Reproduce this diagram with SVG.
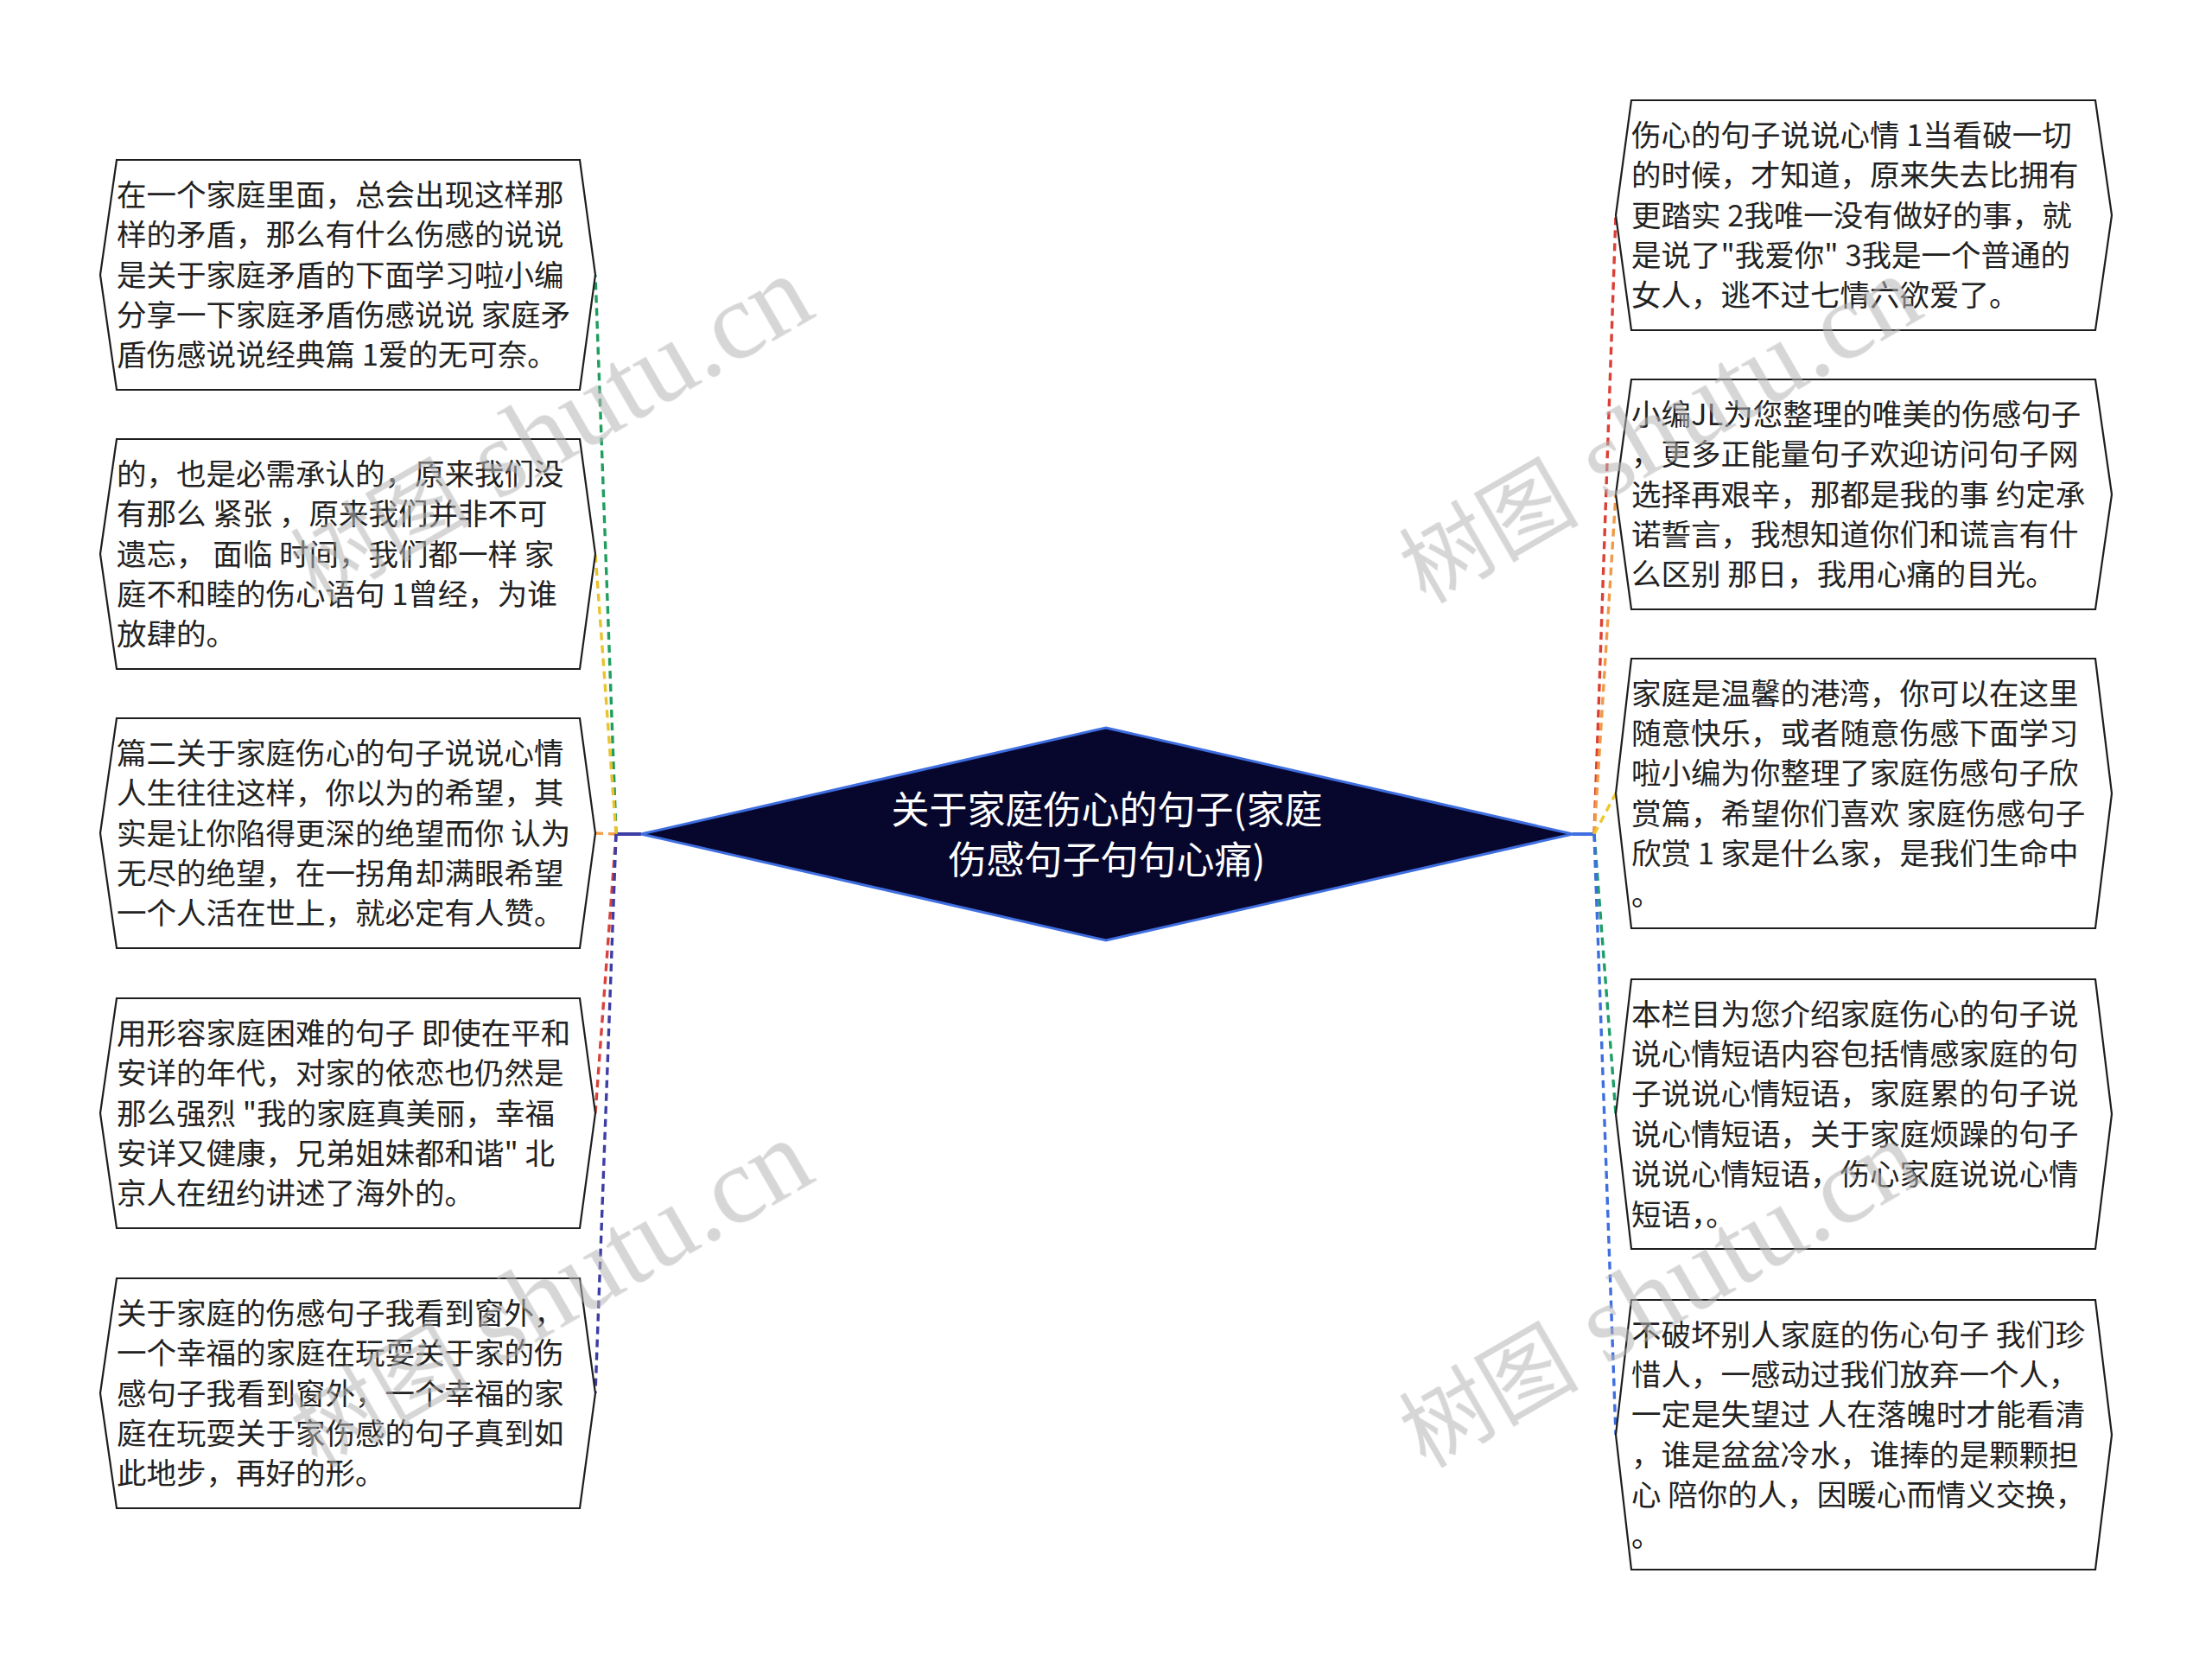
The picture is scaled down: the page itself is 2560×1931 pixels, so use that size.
<svg xmlns="http://www.w3.org/2000/svg" width="2560" height="1931" viewBox="0 0 2560 1931">
<style>
.box{fill:#ffffff;stroke:#1e1e1e;stroke-width:2.2;stroke-linejoin:miter}
.t{font-family:"Noto Sans CJK SC","Noto Sans",sans-serif;font-size:34.5px;fill:#222222}
.ct{font-family:"Noto Sans CJK SC","Noto Sans",sans-serif;font-size:44px;fill:#ffffff;text-anchor:middle}
.e{fill:none;stroke-width:3.4;stroke-dasharray:9 6}
.wm{fill:#b4b4b4;opacity:0.55}
.wmc{font-family:"Noto Sans CJK SC",sans-serif;font-size:104px}
.wml{font-family:"Liberation Serif",serif;font-size:128px}
</style>
<rect width="2560" height="1931" fill="#ffffff"/>
<g id="connectors">
<path d="M742 965 L713 965" stroke="#3d3da6" stroke-width="4" fill="none"/>
<path d="M1820 965 L1845 965" stroke="#3e6ee0" stroke-width="4" fill="none"/>
<path class="e" stroke="#1f9e5e" d="M713 965 L689 318"/>
<path class="e" stroke="#e9c32b" d="M713 965 L689 641"/>
<path class="e" stroke="#f2a04a" d="M713 965 L689 964"/>
<path class="e" stroke="#d8423c" d="M713 965 L689 1288"/>
<path class="e" stroke="#3d3da6" d="M713 965 L689 1612"/>
<path class="e" stroke="#dc3f35" d="M1845 965 L1870 249"/>
<path class="e" stroke="#f09a45" d="M1845 965 L1870 572"/>
<path class="e" stroke="#edc72c" d="M1845 965 L1870 918"/>
<path class="e" stroke="#1d9e68" d="M1845 965 L1870 1289"/>
<path class="e" stroke="#3e6ee0" d="M1845 965 L1870 1660"/>
</g>
<g id="center">
<polygon points="742,965 1280,842 1820,965 1280,1088" fill="#07072e" stroke="#3e6ee0" stroke-width="3"/>
<text class="ct" x="1281" y="953">关于家庭伤心的句子(家庭</text>
<text class="ct" x="1281" y="1011">伤感句子句句心痛)</text>
</g>
<g id="L1">
<polygon class="box" points="116,318 135,185 671,185 689,318 671,451 135,451"/>
<text class="t"><tspan x="135" y="238">在一个家庭里面，总会出现这样那</tspan><tspan x="135" y="284">样的矛盾，那么有什么伤感的说说</tspan><tspan x="135" y="331">是关于家庭矛盾的下面学习啦小编</tspan><tspan x="135" y="377">分享一下家庭矛盾伤感说说 家庭矛</tspan><tspan x="135" y="423">盾伤感说说经典篇 1爱的无可奈。</tspan></text>
</g>
<g id="L2">
<polygon class="box" points="116,641 135,508 671,508 689,641 671,774 135,774"/>
<text class="t"><tspan x="135" y="561">的，也是必需承认的，原来我们没</tspan><tspan x="135" y="607">有那么 紧张 ，原来我们并非不可</tspan><tspan x="135" y="654">遗忘，  面临 时间，我们都一样 家</tspan><tspan x="135" y="700">庭不和睦的伤心语句 1曾经，为谁</tspan><tspan x="135" y="746">放肆的。</tspan></text>
</g>
<g id="L3">
<polygon class="box" points="116,964 135,831 671,831 689,964 671,1097 135,1097"/>
<text class="t"><tspan x="135" y="884">篇二关于家庭伤心的句子说说心情</tspan><tspan x="135" y="930">人生往往这样，你以为的希望，其</tspan><tspan x="135" y="977">实是让你陷得更深的绝望而你 认为</tspan><tspan x="135" y="1023">无尽的绝望，在一拐角却满眼希望</tspan><tspan x="135" y="1069">一个人活在世上，就必定有人赞。</tspan></text>
</g>
<g id="L4">
<polygon class="box" points="116,1288 135,1155 671,1155 689,1288 671,1421 135,1421"/>
<text class="t"><tspan x="135" y="1208">用形容家庭困难的句子 即使在平和</tspan><tspan x="135" y="1254">安详的年代，对家的依恋也仍然是</tspan><tspan x="135" y="1301">那么强烈 "我的家庭真美丽，幸福</tspan><tspan x="135" y="1347">安详又健康，兄弟姐妹都和谐" 北</tspan><tspan x="135" y="1393">京人在纽约讲述了海外的。</tspan></text>
</g>
<g id="L5">
<polygon class="box" points="116,1612 135,1479 671,1479 689,1612 671,1745 135,1745"/>
<text class="t"><tspan x="135" y="1532">关于家庭的伤感句子我看到窗外，</tspan><tspan x="135" y="1578">一个幸福的家庭在玩耍关于家的伤</tspan><tspan x="135" y="1625">感句子我看到窗外，一个幸福的家</tspan><tspan x="135" y="1671">庭在玩耍关于家伤感的句子真到如</tspan><tspan x="135" y="1717">此地步，再好的形。</tspan></text>
</g>
<g id="R1">
<polygon class="box" points="1870,249 1888,116 2425,116 2444,249 2425,382 1888,382"/>
<text class="t"><tspan x="1888" y="169">伤心的句子说说心情 1当看破一切</tspan><tspan x="1888" y="215">的时候，才知道，原来失去比拥有</tspan><tspan x="1888" y="262">更踏实 2我唯一没有做好的事，就</tspan><tspan x="1888" y="308">是说了"我爱你" 3我是一个普通的</tspan><tspan x="1888" y="354">女人，逃不过七情六欲爱了。</tspan></text>
</g>
<g id="R2">
<polygon class="box" points="1870,572 1888,439 2425,439 2444,572 2425,705 1888,705"/>
<text class="t"><tspan x="1888" y="492">小编JL为您整理的唯美的伤感句子</tspan><tspan x="1888" y="538">，更多正能量句子欢迎访问句子网</tspan><tspan x="1888" y="585">选择再艰辛，那都是我的事 约定承</tspan><tspan x="1888" y="631">诺誓言，我想知道你们和谎言有什</tspan><tspan x="1888" y="677">么区别 那日，我用心痛的目光。</tspan></text>
</g>
<g id="R3">
<polygon class="box" points="1870,918 1888,762 2425,762 2444,918 2425,1074 1888,1074"/>
<text class="t"><tspan x="1888" y="815">家庭是温馨的港湾，你可以在这里</tspan><tspan x="1888" y="861">随意快乐，或者随意伤感下面学习</tspan><tspan x="1888" y="907">啦小编为你整理了家庭伤感句子欣</tspan><tspan x="1888" y="954">赏篇，希望你们喜欢 家庭伤感句子</tspan><tspan x="1888" y="1000">欣赏 1 家是什么家，是我们生命中</tspan><tspan x="1888" y="1047">。</tspan></text>
</g>
<g id="R4">
<polygon class="box" points="1870,1289 1888,1133 2425,1133 2444,1289 2425,1445 1888,1445"/>
<text class="t"><tspan x="1888" y="1186">本栏目为您介绍家庭伤心的句子说</tspan><tspan x="1888" y="1232">说心情短语内容包括情感家庭的句</tspan><tspan x="1888" y="1278">子说说心情短语，家庭累的句子说</tspan><tspan x="1888" y="1325">说心情短语，关于家庭烦躁的句子</tspan><tspan x="1888" y="1371">说说心情短语，伤心家庭说说心情</tspan><tspan x="1888" y="1418">短语，。</tspan></text>
</g>
<g id="R5">
<polygon class="box" points="1870,1660 1888,1504 2425,1504 2444,1660 2425,1816 1888,1816"/>
<text class="t"><tspan x="1888" y="1557">不破坏别人家庭的伤心句子 我们珍</tspan><tspan x="1888" y="1603">惜人，一感动过我们放弃一个人，</tspan><tspan x="1888" y="1649">一定是失望过 人在落魄时才能看清</tspan><tspan x="1888" y="1696">，谁是盆盆冷水，谁捧的是颗颗担</tspan><tspan x="1888" y="1742">心 陪你的人，因暖心而情义交换，</tspan><tspan x="1888" y="1789">。</tspan></text>
</g>
<g id="watermarks" class="wm">
<text transform="translate(367,700) rotate(-30)"><tspan class="wmc">树图</tspan><tspan class="wml"> shutu.cn</tspan></text>
<text transform="translate(1650,700) rotate(-30)"><tspan class="wmc">树图</tspan><tspan class="wml"> shutu.cn</tspan></text>
<text transform="translate(367,1700) rotate(-30)"><tspan class="wmc">树图</tspan><tspan class="wml"> shutu.cn</tspan></text>
<text transform="translate(1650,1700) rotate(-30)"><tspan class="wmc">树图</tspan><tspan class="wml"> shutu.cn</tspan></text>
</g>
</svg>
